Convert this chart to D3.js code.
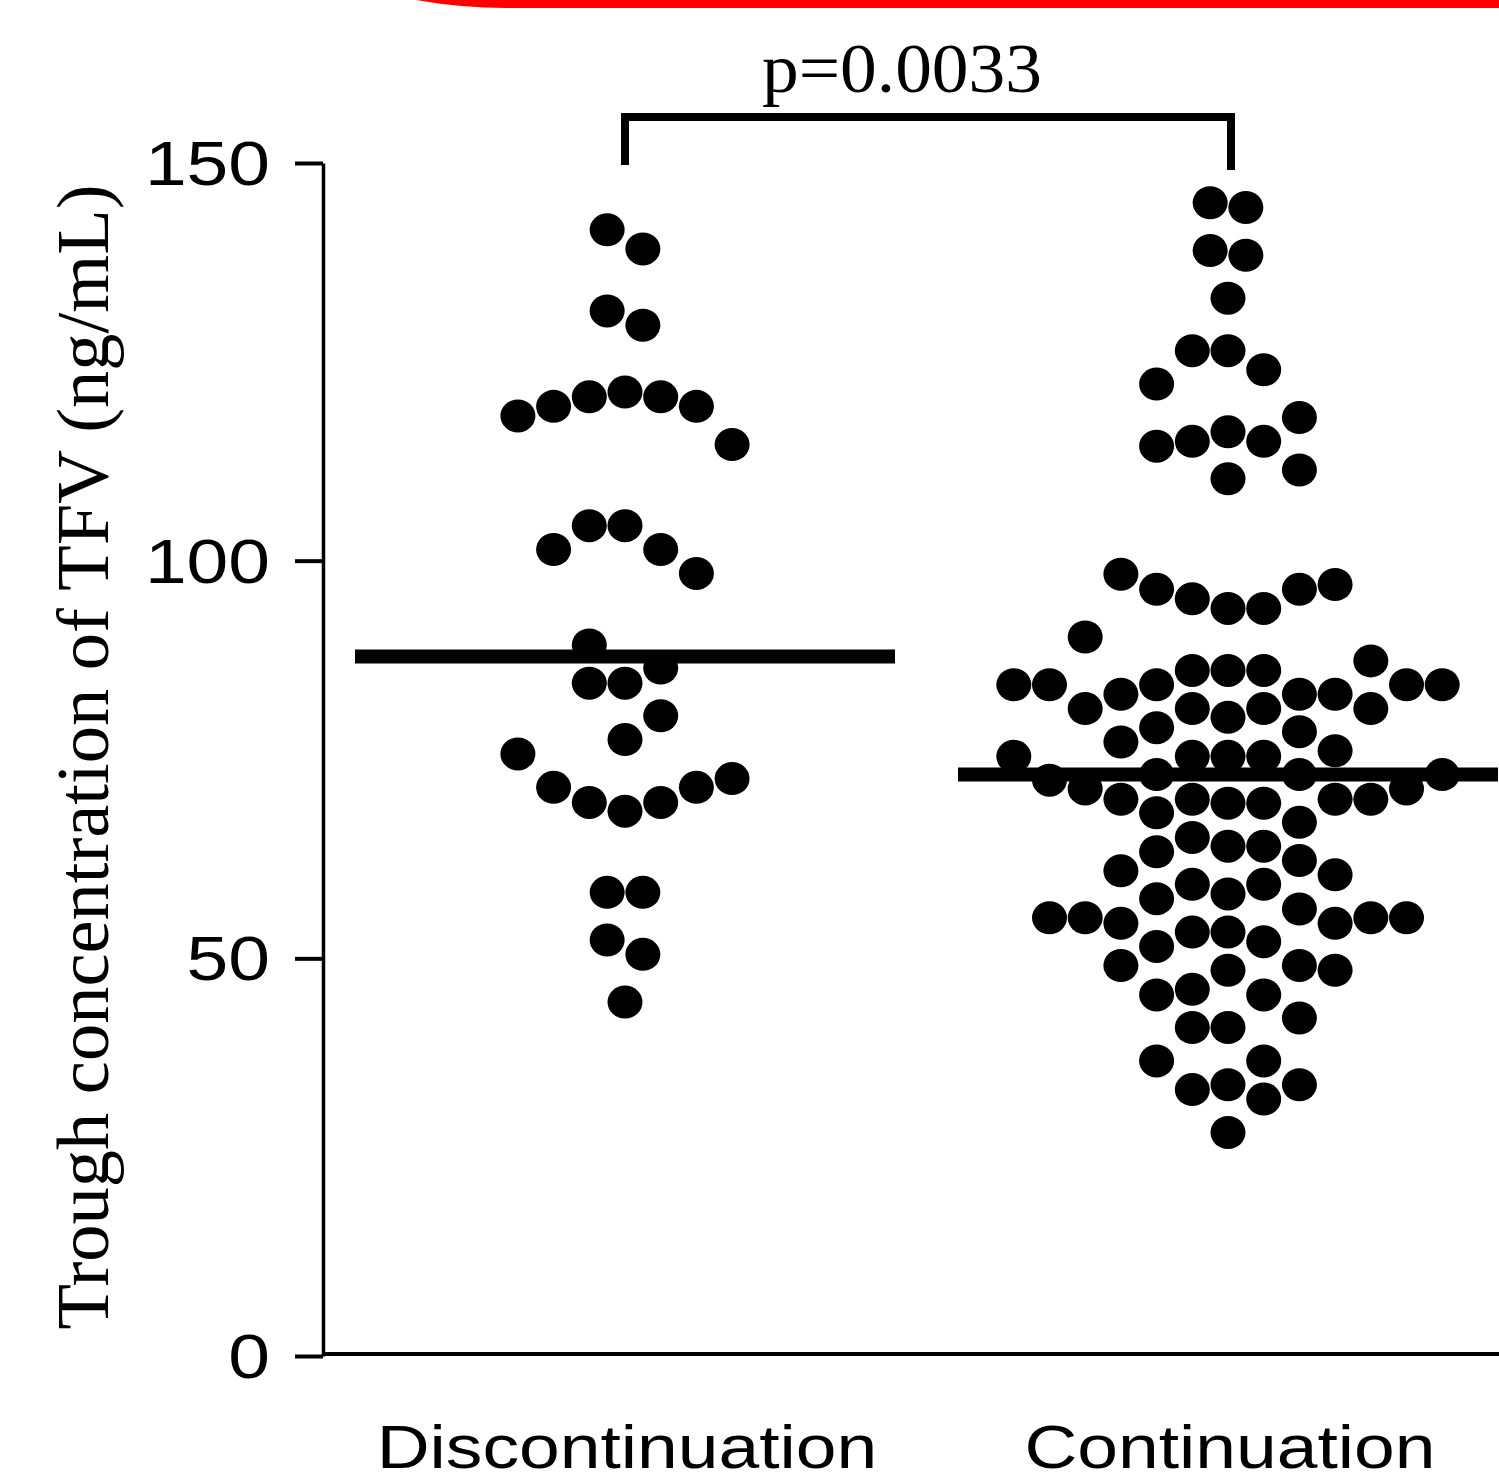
<!DOCTYPE html>
<html>
<head>
<meta charset="utf-8">
<script src="https://cdn.jsdelivr.net/npm/d3@7"></script>
<style>
  body { margin: 0; background: #fff; }
  svg { display: block; }
</style>
</head>
<body>
<div id="plot"></div>
<script>
// groups and axis
var categories = ["Discontinuation", "Continuation"];
var yTicks = [0, 50, 100, 150];
var yTitle = "Trough concentration of TFV (ng/mL)";
var pLabel = "p=0.0033";

// Discontinuation group: TFV values and swarm lane of each dot
var discValues = [141.6, 139.2, 131.4, 129.6,
  118.2, 119.4, 120.6, 121.2, 120.6, 119.4, 114.6,
  101.4, 104.4, 104.4, 101.4, 98.4,
  89.4, 86.5, 84.6, 84.6, 80.5, 77.5,
  75.7, 71.5, 69.6, 68.5, 69.6, 71.5, 72.6,
  58.3, 58.3, 52.3, 50.5, 44.5];
var discLanes = [-0.5, 0.5, -0.5, 0.5,
  -3, -2, -1, 0, 1, 2, 3,
  -2, -1, 0, 1, 2,
  -1, 1, -1, 0, 1, 0,
  -3, -2, -1, 0, 1, 2, 3,
  -0.5, 0.5, -0.5, 0.5, 0];

// Continuation group
var contValues = [145.0, 144.4, 139.0, 138.4, 133.0, 126.4, 126.4, 124.0,
  122.2, 118.0, 114.4, 115.0, 116.2, 115.0, 111.4, 110.3,
  98.3, 96.4, 95.2, 94.0, 94.0, 96.4, 97.0, 90.4, 87.4,
  86.2, 86.2, 86.2, 84.4, 84.4, 84.4, 84.4, 84.4,
  83.2, 83.2, 83.2, 81.4, 81.4, 81.4, 81.4,
  80.3, 79.0, 78.5, 77.2, 76.1, 75.4, 75.4, 75.4, 75.4,
  73.1, 73.1, 73.1, 72.4, 71.3, 71.3, 70.0, 70.0, 70.0, 70.0,
  69.5, 69.5, 68.3, 67.1,
  65.2, 63.4, 64.1, 64.1, 61.0, 62.3, 60.5, 59.3, 57.5, 58.1, 59.3, 56.2,
  55.1, 55.1, 54.4, 54.4, 55.1, 55.1, 53.3, 53.3, 51.5, 52.1,
  49.1, 49.1, 48.5, 48.5, 45.4, 46.1, 45.4, 42.5, 41.3, 41.3,
  37.1, 37.1, 33.5, 34.1, 32.3, 34.1, 28.1];
var contLanes = [-0.5, 0.5, -0.5, 0.5, 0, -1, 0, 1,
  -2, 2, -2, -1, 0, 1, 2, 0,
  -3, -2, -1, 0, 1, 2, 3, -4, 4,
  -1, 0, 1, -6, -5, -2, 5, 6,
  -3, 2, 3, -4, -1, 1, 4,
  0, -2, 2, -3, 3, -6, -1, 0, 1,
  -2, 2, 6, -5, -4, 5, -3, -1, 3, 4,
  0, 1, -2, 2,
  -1, -2, 0, 1, -3, 2, 3, -1, -2, 0, 1, 2,
  -5, -4, -3, 3, 4, 5, -1, 0, -2, 1,
  -3, 2, 0, 3, -2, -1, 1, 2, -1, 0,
  -2, 1, -1, 0, 1, 2, 0];

var groups = [
  { name: categories[0], values: discValues, lanes: discLanes },
  { name: categories[1], values: contValues, lanes: contLanes }
];

var width = 1499, height = 1481;
var sans = "'Liberation Sans', Arial, Helvetica, sans-serif";
var serif = "'Liberation Serif', 'Times New Roman', serif";

var svg = d3.select("#plot")
  .append("svg")
    .attr("width", width)
    .attr("height", height);

// red panel edge peeking in at the top
svg.append("path")
    .attr("d", "M416,0 A521,521 0 0,0 507,8 L1499,8 L1499,0 Z")
    .attr("fill", "#ff0000");

// scales
var x = d3.scalePoint()
    .domain(categories)
    .range([625, 1228]);

var lane = d3.scaleLinear()
    .domain([-1, 1])
    .range([-35.7, 35.7]);

var y = d3.scaleLinear()
    .domain([0, 150])
    .range([1356, 163]);

// stretch text horizontally like the original (wide sans)
function widen(sel, k) {
  sel.each(function() {
    var w = this.getComputedTextLength();
    d3.select(this)
      .attr("textLength", w * k)
      .attr("lengthAdjust", "spacingAndGlyphs");
  });
}

// Y axis
var yAxis = svg.append("g")
    .attr("transform", "translate(323,0)")
    .call(d3.axisLeft(y).tickValues(yTicks).tickSize(28).tickSizeOuter(0).tickPadding(25));
yAxis.select(".domain").attr("stroke-width", 3.5);
yAxis.selectAll(".tick line").attr("stroke-width", 4);
yAxis.selectAll(".tick text")
    .attr("font-family", sans)
    .attr("font-size", 63)
    .attr("fill", "#000")
    .attr("dy", "0.34em")
    .call(widen, 1.19);

// X axis
var xAxis = svg.append("g")
    .attr("transform", "translate(0,1354)");
xAxis.append("line")
    .attr("x1", 323).attr("x2", width)
    .attr("stroke", "#000")
    .attr("stroke-width", 4);
xAxis.selectAll("text")
    .data(categories)
    .enter()
    .append("text")
    .attr("x", function(d) { return x(d) + 2; })
    .attr("y", 114)
    .attr("text-anchor", "middle")
    .attr("font-family", sans)
    .attr("font-size", 61)
    .attr("fill", "#000")
    .text(function(d) { return d; })
    .call(widen, 1.2);

// Y axis title
svg.append("text")
    .attr("transform", "translate(108,757) rotate(-90)")
    .attr("text-anchor", "middle")
    .attr("font-family", serif)
    .attr("font-size", 74)
    .attr("fill", "#000")
    .attr("textLength", 1145)
    .attr("lengthAdjust", "spacingAndGlyphs")
    .text(yTitle);

// dots
groups.forEach(function(g) {
  svg.append("g")
    .selectAll("ellipse")
    .data(g.values)
    .enter()
    .append("ellipse")
      .attr("cx", function(d, i) { return x(g.name) + lane(g.lanes[i]); })
      .attr("cy", function(d) { return y(d); })
      .attr("rx", 17.5)
      .attr("ry", 16.5)
      .attr("fill", "#000");
});

// median lines
svg.append("g")
  .selectAll("line")
  .data(groups)
  .enter()
  .append("line")
    .attr("x1", function(d) { return x(d.name) - 270; })
    .attr("x2", function(d) { return x(d.name) + 270; })
    .attr("y1", function(d) { return y(d3.median(d.values)); })
    .attr("y2", function(d) { return y(d3.median(d.values)); })
    .attr("stroke", "#000")
    .attr("stroke-width", 14);

// significance bracket
svg.append("path")
    .attr("d", "M" + x(categories[0]) + ",165 V117 H" + (x(categories[1]) + 3) + " V170")
    .attr("fill", "none")
    .attr("stroke", "#000")
    .attr("stroke-width", 8);

svg.append("text")
    .attr("x", 902)
    .attr("y", 92)
    .attr("text-anchor", "middle")
    .attr("font-family", serif)
    .attr("font-size", 70)
    .attr("fill", "#000")
    .attr("textLength", 280)
    .attr("lengthAdjust", "spacingAndGlyphs")
    .text(pLabel);
</script>
</body>
</html>
